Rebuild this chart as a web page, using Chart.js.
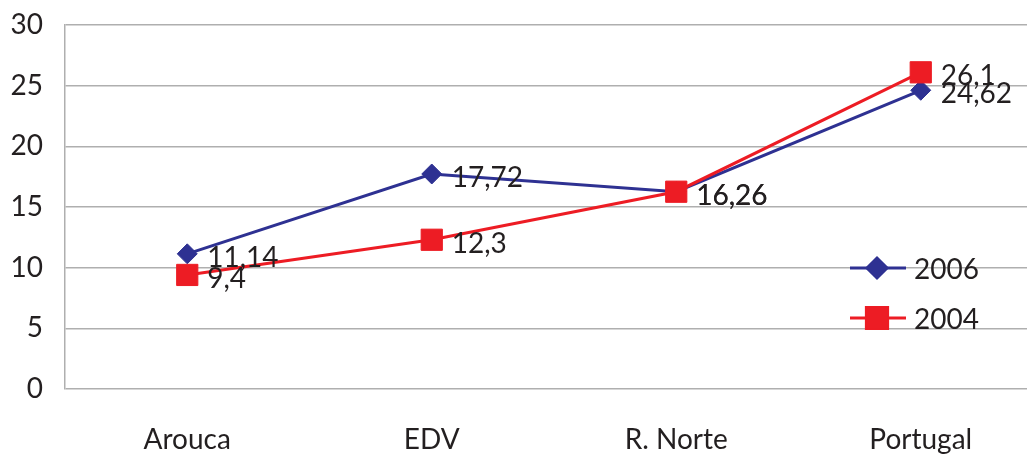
<!DOCTYPE html>
<html>
<head>
<meta charset="utf-8">
<script src="https://cdn.jsdelivr.net/npm/chart.js@4"></script>
<style>
  html, body { margin: 0; padding: 0; background: #fff; overflow: hidden; }
  #wrap { width: 1060px; height: 456px; }
</style>
</head>
<body>
<div id="wrap"><canvas id="chart" width="1060" height="456"></canvas></div>
<script>
const categories = ['Arouca', 'EDV', 'R. Norte', 'Portugal'];
const values2006 = [11.14, 17.72, 16.26, 24.62];
const values2004 = [9.4, 12.3, 16.26, 26.1];
const yTicks = [0, 5, 10, 15, 20, 25, 30];

const BLUE = '#2E3192';
const RED = '#ED1C24';
const FONT = 'Lato, "Open Sans", sans-serif';
const TEXT = '#231F20';

const fmt = v => String(v).replace('.', ',');

// value labels to the right of each point
const valueLabels = {
  id: 'valueLabels',
  afterDatasetsDraw(chart) {
    const ctx = chart.ctx;
    ctx.save();
    ctx.font = '28px ' + FONT;
    ctx.fillStyle = TEXT;
    ctx.textAlign = 'left';
    ctx.textBaseline = 'middle';
    chart.data.datasets.forEach((ds, i) => {
      chart.getDatasetMeta(i).data.forEach((pt, j) => {
        ctx.fillText(fmt(ds.data[j]), pt.x + 20, pt.y + 4);
      });
    });
    ctx.restore();
  }
};

// legend drawn inside the plot, right side
const sideLegend = {
  id: 'sideLegend',
  afterDraw(chart) {
    const ctx = chart.ctx;
    const rows = [268, 318];
    ctx.save();
    chart.data.datasets.forEach((ds, i) => {
      const y = rows[i];
      ctx.strokeStyle = ds.borderColor;
      ctx.lineWidth = 3;
      ctx.beginPath();
      ctx.moveTo(850, y);
      ctx.lineTo(906, y);
      ctx.stroke();
      Chart.helpers.drawPoint(ctx, {
        pointStyle: ds.pointStyle,
        radius: ds.pointRadius,
        borderWidth: 1
      }, 877, y);
      ctx.fillStyle = ds.backgroundColor;
      ctx.fill();
      ctx.font = '28px ' + FONT;
      ctx.fillStyle = TEXT;
      ctx.textBaseline = 'middle';
      ctx.fillText(ds.label, 914, y + 2);
    });
    ctx.restore();
  }
};

new Chart(document.getElementById('chart').getContext('2d'), {
  type: 'line',
  data: {
    labels: categories,
    datasets: [
      {
        label: '2006',
        data: values2006,
        borderColor: BLUE,
        backgroundColor: BLUE,
        borderWidth: 3,
        pointStyle: 'rectRot',
        pointRadius: 10,
        pointBorderWidth: 1,
        tension: 0,
        order: 1
      },
      {
        label: '2004',
        data: values2004,
        borderColor: RED,
        backgroundColor: RED,
        borderWidth: 3,
        pointStyle: 'rect',
        pointRadius: 15,
        pointBorderWidth: 1,
        tension: 0,
        order: 0
      }
    ]
  },
  options: {
    responsive: false,
    animation: false,
    layout: { padding: { top: 25, right: 17, left: 0, bottom: 0 } },
    plugins: {
      legend: { display: false },
      tooltip: { enabled: false }
    },
    scales: {
      x: {
        offset: true,
        grid: { display: false, drawTicks: false },
        border: { display: false },
        ticks: { padding: 34, color: TEXT, font: { family: FONT, size: 28 } },
        afterFit: s => { s.height = 67; }
      },
      y: {
        min: 0,
        max: 30,
        afterBuildTicks: s => { s.ticks = yTicks.map(v => ({ value: v })); },
        grid: { color: '#AFAFAF', lineWidth: 1.5, drawTicks: false },
        border: { display: true, color: '#AFAFAF', width: 1.5 },
        ticks: { padding: 22, color: TEXT, font: { family: FONT, size: 28 } },
        afterFit: s => { s.width = 65; s.paddingTop = 0; s.paddingBottom = 0; }
      }
    }
  },
  plugins: [valueLabels, sideLegend]
});
</script>
</body>
</html>
